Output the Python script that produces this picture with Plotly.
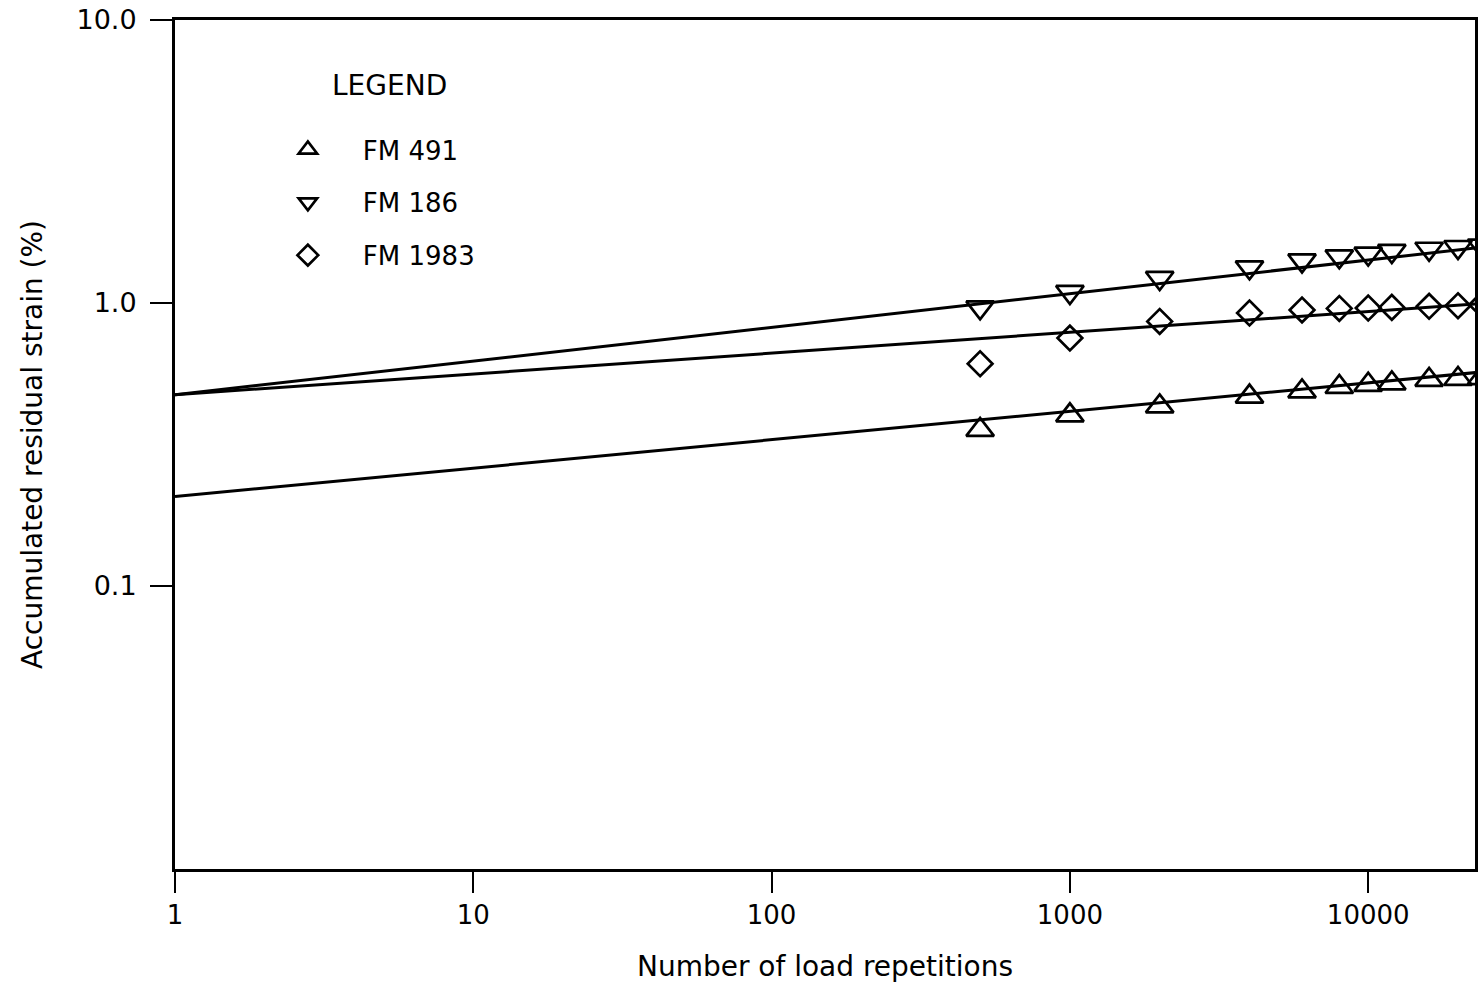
import numpy as np
import plotly.graph_objects as go

# ---- data ----
cycles = [500, 1000, 2000, 4000, 6000, 8000, 10000, 12000, 16000, 20000, 24000]
fm491 = [0.356, 0.401, 0.431, 0.467, 0.487, 0.505, 0.514, 0.520, 0.535, 0.539, 0.543]
fm186 = [0.965, 1.094, 1.226, 1.336, 1.414, 1.461, 1.494, 1.527, 1.555, 1.577, 1.594]
fm1983 = [0.610, 0.752, 0.861, 0.922, 0.945, 0.957, 0.960, 0.965, 0.973, 0.978, 0.986]

series_names = ["FM 491", "FM 186", "FM 1983"]
series_values = [fm491, fm186, fm1983]
series_symbols = ["triangle-up-open", "triangle-down-open", "diamond-open"]
series_sizes = [24, 24, 19]

# power-law fit lines  strain = a * N^b
fit_intercept = [0.207, 0.474, 0.474]
fit_exponent = [0.1005, 0.119, 0.0735]
fit_n = [1, 30000]

x_tickvals = [1, 10, 100, 1000, 10000]
x_ticktext = ["1", "10", "100", "1000", "10000"]
y_tickvals = [0.1, 1, 10]
y_ticktext = ["0.1", "1.0", "10.0"]

FONT = "DejaVu Sans"

fig = go.Figure()

for name, vals, sym, sz, a, b in zip(series_names, series_values, series_symbols,
                                     series_sizes, fit_intercept, fit_exponent):
    xn = np.array(fit_n, dtype=float)
    fig.add_trace(go.Scatter(
        x=xn, y=a * xn ** b, mode="lines",
        line=dict(color="black", width=3),
        showlegend=False, hoverinfo="skip", legendgroup=name))
    fig.add_trace(go.Scatter(
        x=cycles, y=vals, mode="markers", name=name, legendgroup=name,
        marker=dict(symbol=sym, size=sz, color="black",
                    line=dict(color="black", width=2.7))))

fig.add_annotation(text="LEGEND", xref="paper", yref="paper",
                   x=0.119, y=0.9234, xanchor="left", yanchor="middle",
                   showarrow=False, font=dict(family=FONT, size=28, color="black"))

fig.update_layout(
    width=1482, height=987,
    margin=dict(l=175, r=4, t=20, b=118),
    paper_bgcolor="white", plot_bgcolor="white",
    font=dict(family=FONT, color="black"),
    legend=dict(x=0.0599, y=0.8750, xanchor="left", yanchor="top",
                bgcolor="rgba(0,0,0,0)", traceorder="grouped",
                tracegroupgap=16, itemwidth=100,
                font=dict(family=FONT, size=26, color="black")),
    xaxis=dict(type="log", range=[0, 4.358],
               tickvals=x_tickvals, ticktext=x_ticktext,
               ticks="outside", ticklen=21, tickwidth=2, tickcolor="black",
               showline=True, linewidth=3, linecolor="black", mirror=True,
               showgrid=False, zeroline=False,
               tickfont=dict(family=FONT, size=26),
               title=dict(text="Number of load repetitions",
                          font=dict(family=FONT, size=28), standoff=28)),
    yaxis=dict(type="log", range=[-2, 1],
               tickvals=y_tickvals, ticktext=y_ticktext,
               ticks="outside", ticklen=22, tickwidth=2, tickcolor="black",
               showline=True, linewidth=3, linecolor="black", mirror=True,
               showgrid=False, zeroline=False,
               tickfont=dict(family=FONT, size=27),
               ticklabelstandoff=8,
               title=dict(text="Accumulated residual strain (%)",
                          font=dict(family=FONT, size=28), standoff=26)),
)

fig.write_html("out.html")
